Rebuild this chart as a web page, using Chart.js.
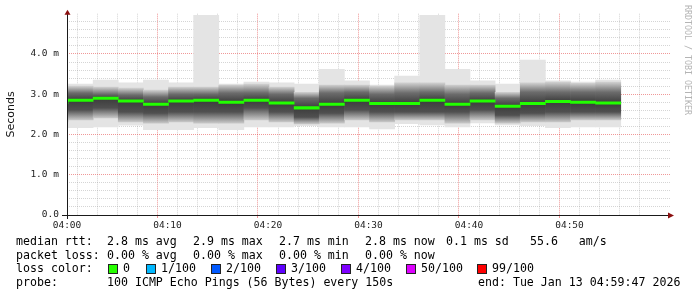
<!DOCTYPE html>
<html><head><meta charset="utf-8">
<script src="https://cdn.jsdelivr.net/npm/chart.js@4.4.1/dist/chart.umd.min.js"></script>
<style>
html,body{margin:0;padding:0;background:#fff;}
#wrap{position:relative;width:697px;height:297px;overflow:hidden;background:#fff;}
#c{position:absolute;left:0;top:0;}
.t{position:absolute;font-family:'DejaVu Sans Mono',monospace;font-size:11.6px;line-height:14px;color:#000;white-space:pre;}
.sq{position:absolute;width:8px;height:8px;border:1px solid #222;}
#credit{position:absolute;left:682.5px;top:5px;writing-mode:vertical-rl;font-family:'DejaVu Sans Mono',monospace;font-size:8.3px;color:#b4b4b4;line-height:10px;white-space:pre;}
</style></head><body>
<div id="wrap">
<canvas id="c" width="697" height="297"></canvas>
<div id="legend"></div>
<div id="credit">RRDTOOL / TOBI OETIKER</div>
</div>
<script>
// ---- data (minutes after 04:00 = centre of each 150 s step; values in ms) ----
const STEP_MIN = 2.5;
const times = [-1.15,1.35,3.85,6.35,8.85,11.35,13.85,16.35,18.85,21.35,23.85,26.35,28.85,31.35,33.85,36.35,38.85,41.35,43.85,46.35,48.85,51.35,53.85];
const medianRtt = [2.79,2.85,2.90,2.83,2.75,2.83,2.85,2.80,2.85,2.78,2.66,2.75,2.85,2.77,2.77,2.85,2.75,2.83,2.70,2.77,2.82,2.80,2.78];
const pingMax   = [3.25,3.25,3.35,3.28,3.35,3.28,4.96,3.25,3.30,3.28,3.25,3.62,3.33,3.23,3.45,4.96,3.62,3.33,3.25,3.85,3.33,3.30,3.35];
const pingMin   = [2.16,2.17,2.19,2.23,2.12,2.12,2.17,2.12,2.19,2.19,2.22,2.19,2.19,2.14,2.27,2.24,2.19,2.29,2.24,2.22,2.17,2.19,2.19];
const smokeHigh = [3.18,3.20,3.18,3.15,3.10,3.18,3.18,3.23,3.25,3.18,3.05,3.23,3.23,3.20,3.28,3.28,3.23,3.23,3.05,3.28,3.30,3.27,3.30];
const darkHigh  = [3.00,3.03,3.00,2.98,2.93,3.00,3.00,3.03,3.03,3.00,2.90,3.03,3.05,3.00,3.03,3.05,3.00,3.03,2.90,3.05,3.05,3.05,3.05];
const darkLow   = [2.56,2.61,2.66,2.56,2.53,2.56,2.56,2.56,2.66,2.56,2.43,2.53,2.61,2.56,2.56,2.56,2.56,2.61,2.48,2.53,2.56,2.56,2.56];
const smokeLow  = [2.31,2.36,2.41,2.31,2.28,2.31,2.28,2.28,2.36,2.31,2.26,2.28,2.36,2.31,2.36,2.36,2.28,2.36,2.28,2.31,2.31,2.36,2.36];

const xTickLabels = ['04:00','04:10','04:20','04:30','04:40','04:50'];
const yTickLabels = ['0.0','1.0 m','2.0 m','3.0 m','4.0 m'];

const rowLabels = ['median rtt:','packet loss:','loss color:','probe:'];
const rttStats  = ['2.8 ms avg','2.9 ms max','2.7 ms min','2.8 ms now','0.1 ms sd','55.6   am/s'];
const lossStats = ['0.00 % avg','0.00 % max','0.00 % min','0.00 % now'];
const lossLabels = ['0','1/100','2/100','3/100','4/100','50/100','99/100'];
const lossColors = ['#26ff00','#00b8ff','#0059ff','#5e00ff','#7e00ff','#dd00ff','#ff0000'];
const probeText = '100 ICMP Echo Pings (56 Bytes) every 150s';
const endText = 'end: Tue Jan 13 04:59:47 2026';

// ---- layout positions (px) ----
const rowTops = [234, 247.7, 261.3, 275];
const rttX = [107,193,279,365,446,530];
const lossX = [107,193,279,365];
const squareX = [108,146,211,276,341,406,477];

// ---- legend HTML ----
const leg = document.getElementById('legend');
function addText(txt, x, y){ const d=document.createElement('div'); d.className='t'; d.style.left=x+'px'; d.style.top=y+'px'; d.textContent=txt; leg.appendChild(d); }
rowLabels.forEach((l,i)=>addText(l,16,rowTops[i]));
rttStats.forEach((s,i)=>addText(s,rttX[i],rowTops[0]));
lossStats.forEach((s,i)=>addText(s,lossX[i],rowTops[1]));
lossLabels.forEach((s,i)=>{
  const q=document.createElement('div'); q.className='sq'; q.style.left=squareX[i]+'px'; q.style.top='264px'; q.style.background=lossColors[i]; leg.appendChild(q);
  addText(s, squareX[i]+15, rowTops[2]);
});
addText(probeText,107,rowTops[3]);
addText(endText,478,rowTops[3]);

// ---- chart ----
const MED_HALF = 0.03;
const isWhole = v => Math.abs(v - Math.round(v)) < 1e-6;
const pts = (lo, hi) => times.map((t,i)=>({x:t, y:[lo[i], hi[i]]}));
const medPts = times.map((t,i)=>({x:t, y:[medianRtt[i]-MED_HALF, medianRtt[i]+MED_HALF]}));

function smokeGradient(c){
  if (c.type !== 'data') return '#888';
  const chart = c.chart, ys = chart.scales.y;
  if (!chart.chartArea || !ys) return '#888';
  const i = c.dataIndex;
  const top = ys.getPixelForValue(smokeHigh[i]);
  const bot = ys.getPixelForValue(smokeLow[i]);
  const h = bot - top;
  if (!isFinite(top) || !isFinite(bot) || h <= 0) return '#888';
  const off = v => Math.min(1, Math.max(0, (ys.getPixelForValue(v) - top) / h));
  const g = chart.ctx.createLinearGradient(0, top, 0, bot);
  g.addColorStop(0, '#cfcfcf');
  g.addColorStop(off(darkHigh[i]), '#6c6c6c');
  g.addColorStop(off(medianRtt[i]), '#3c3c3c');
  g.addColorStop(off(darkLow[i]), '#505050');
  g.addColorStop(1, '#c8c8c8');
  return g;
}

const common = {type:'bar', grouped:false, barPercentage:1, categoryPercentage:1, borderWidth:0, borderSkipped:false};

const axesPlugin = {
  id:'rrdAxes',
  afterDraw(chart){
    const {ctx, chartArea:a} = chart;
    ctx.save();
    const yb = Math.round(a.bottom)+0.5, xl = Math.round(a.left)+0.5;
    ctx.strokeStyle='#1a1a1a'; ctx.lineWidth=1;
    ctx.beginPath();
    ctx.moveTo(a.left-5, yb); ctx.lineTo(a.right-2, yb);
    ctx.moveTo(xl, a.bottom+4); ctx.lineTo(xl, a.top-1);
    ctx.stroke();
    ctx.fillStyle='#8b1010';
    ctx.beginPath(); ctx.moveTo(a.right+4, yb); ctx.lineTo(a.right-2, yb-3); ctx.lineTo(a.right-2, yb+3); ctx.closePath(); ctx.fill();
    ctx.beginPath(); ctx.moveTo(xl, a.top-4); ctx.lineTo(xl-3, a.top+1); ctx.lineTo(xl+3, a.top+1); ctx.closePath(); ctx.fill();
    ctx.restore();
  }
};

const MAJ = 'rgba(225,50,50,0.5)', MIN = 'rgba(150,150,150,0.40)', NONE = 'rgba(0,0,0,0)';
const tv = c => (c && c.tick) ? c.tick.value : null;

const chart = new Chart(document.getElementById('c'), {
  type:'bar',
  data:{datasets:[
    {...common, label:'median rtt', data:medPts, backgroundColor:'#22ff00', order:1},
    {...common, label:'smoke', data:pts(smokeLow, smokeHigh), backgroundColor:smokeGradient, order:2},
    {...common, label:'range', data:pts(pingMin, pingMax), backgroundColor:'#e4e4e4', order:3}
  ]},
  options:{
    responsive:false, animation:false, devicePixelRatio:1,
    layout:{padding:{left:0, top:13.5, right:27, bottom:64}},
    plugins:{legend:{display:false}, tooltip:{enabled:false}},
    scales:{
      x:{type:'linear', min:0, max:60, offset:false, z:1,
        afterFit(s){ s.height = 18; },
        border:{display:false, dash:[1,1]},
        grid:{lineWidth:1, drawTicks:true, tickLength:3,
          color:c=>{const v=tv(c); if (v===null || v>=60) return NONE; return v%10===0?MAJ:MIN;},
          tickColor:c=>{const v=tv(c); return (v!==null && v%10===0 && v<60)?MAJ:NONE;}},
        ticks:{stepSize:2, autoSkip:false, maxRotation:0, maxTicksLimit:100, padding:2,
          font:{family:'DejaVu Sans Mono', size:9.5}, color:'#222',
          callback:v=>(v%10===0 && v<60)? xTickLabels[v/10] : ''}
      },
      y:{min:0, max:5, z:1,
        afterFit(s){ s.width = 67; },
        border:{display:false, dash:[1,1]},
        title:{display:true, text:'Seconds', color:'#111', font:{family:'DejaVu Sans', size:11}, padding:{top:4.4, bottom:0}},
        grid:{lineWidth:1, drawTicks:false,
          color:c=>{const v=tv(c); if (v===null || v>4.99 || v<0.01) return NONE; return isWhole(v)?MAJ:MIN;}},
        ticks:{stepSize:0.2, autoSkip:false, maxTicksLimit:100, padding:8,
          font:{family:'DejaVu Sans Mono', size:9.5}, color:'#222',
          callback:v=>(isWhole(v) && v<4.99)? yTickLabels[Math.round(v)] : ''}
      }
    }
  },
  plugins:[axesPlugin]
});
// bar width = one 150 s step, measured through the x scale
const xs = chart.scales.x;
const stepPx = xs.getPixelForValue(STEP_MIN) - xs.getPixelForValue(0);
chart.data.datasets.forEach(d => { d.barThickness = stepPx; });
chart.update();
</script>
</body></html>
